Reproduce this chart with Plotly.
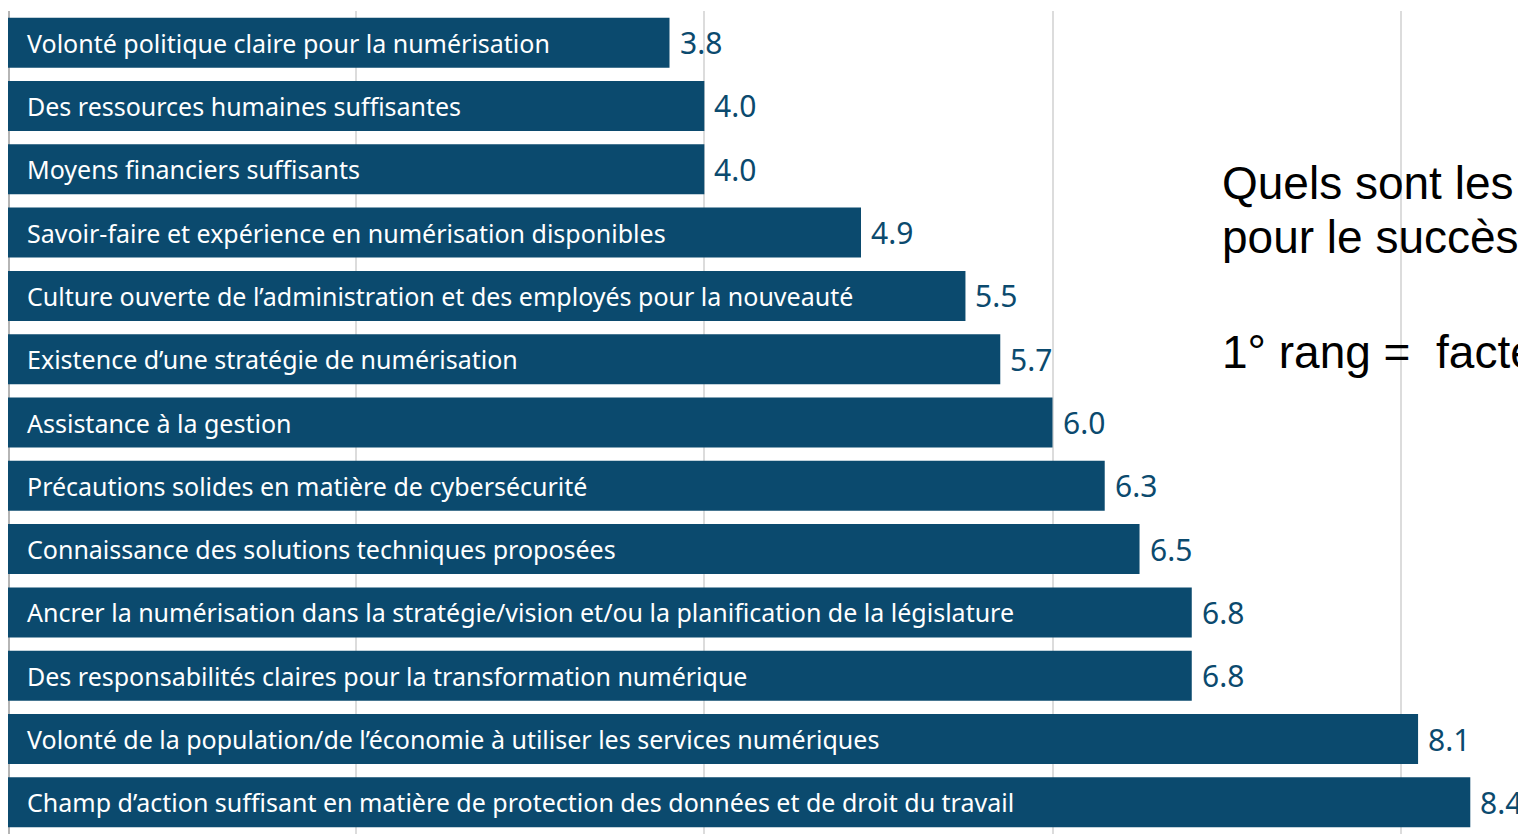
import plotly.graph_objects as go

categories = [
    "Volonté politique claire pour la numérisation",
    "Des ressources humaines suffisantes",
    "Moyens financiers suffisants",
    "Savoir-faire et expérience en numérisation disponibles",
    "Culture ouverte de l’administration et des employés pour la nouveauté",
    "Existence d’une stratégie de numérisation",
    "Assistance à la gestion",
    "Précautions solides en matière de cybersécurité",
    "Connaissance des solutions techniques proposées",
    "Ancrer la numérisation dans la stratégie/vision et/ou la planification de la législature",
    "Des responsabilités claires pour la transformation numérique",
    "Volonté de la population/de l’économie à utiliser les services numériques",
    "Champ d’action suffisant en matière de protection des données et de droit du travail",
]
values = [3.8, 4.0, 4.0, 4.9, 5.5, 5.7, 6.0, 6.3, 6.5, 6.8, 6.8, 8.1, 8.4]
value_labels = ["3.8", "4.0", "4.0", "4.9", "5.5", "5.7", "6.0", "6.3", "6.5", "6.8", "6.8", "8.1", "8.4"]
side_text = ["Quels sont les facteurs", "pour le succès de la numérisation ?", "1° rang =  facteur le plus important"]

BAR = "#0b4a6e"
W, H = 1518, 826      # page body has an 8px margin
ML, MT = 0, 3

fig = go.Figure()
fig.add_trace(go.Bar(
    x=values, y=categories, orientation="h",
    marker=dict(color=BAR, line=dict(width=0)),
    hoverinfo="skip",
))

ann = []
for c, v, lab in zip(categories, values, value_labels):
    ann.append(dict(x=0, y=c, xref="x", yref="y", text=c, showarrow=False,
                    xanchor="left", xshift=17,
                    font=dict(family="Noto Sans", size=25, color="white")))
    ann.append(dict(x=v, y=c, xref="x", yref="y", text=lab, showarrow=False,
                    xanchor="left", xshift=8,
                    font=dict(family="Noto Sans", size=30, color=BAR)))

fig.update_layout(
    width=W, height=H,
    margin=dict(l=ML, r=0, t=MT, b=0),
    paper_bgcolor="white", plot_bgcolor="white",
    showlegend=False,
    bargap=0.21,
    xaxis=dict(range=[0, 8.72], tickvals=[0, 2, 4, 6, 8], showticklabels=False,
               showgrid=True, gridcolor="#dcdcdc", gridwidth=1.5,
               zeroline=True, zerolinecolor="#b5b5b5", zerolinewidth=3,
               showline=False, fixedrange=True),
    yaxis=dict(autorange="reversed", showticklabels=False, showgrid=False,
               zeroline=False, showline=False, fixedrange=True),
    annotations=ann,
)

# side text (extends beyond the right edge as in the reference)
line_y = [183, 237, 352]   # page pixel centres
for t, yy in zip(side_text, line_y):
    fy = yy - 8
    fig.add_annotation(
        x=(1220 - 8 - ML) / (W - ML), y=1 - (fy - MT) / (H - MT),
        xref="paper", yref="paper",
        text=t, showarrow=False, xanchor="left", yanchor="middle",
        font=dict(family="Liberation Sans", size=46, color="black"),
    )

fig.write_html("out.html")
